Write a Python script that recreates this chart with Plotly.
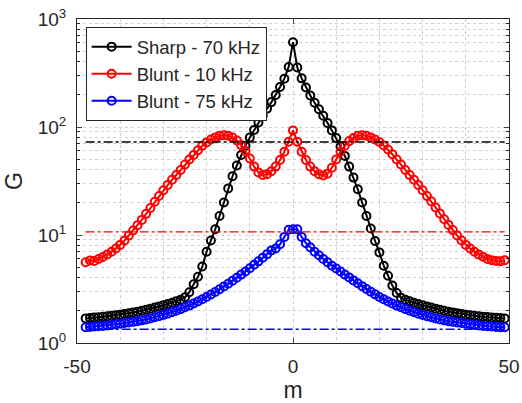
import plotly.graph_objects as go

# mode number
m = list(range(-48, 50))

# G values
sharp_70 = [1.69, 1.70, 1.72, 1.73, 1.75, 1.77, 1.79, 1.81, 1.83, 1.86,
            1.89, 1.92, 1.95, 1.99, 2.03, 2.08, 2.13, 2.18, 2.24, 2.30,
            2.36, 2.44, 2.52, 2.65, 2.95, 3.5, 4.1, 5.1, 7.0, 8.9,
            11.3, 15, 20, 27, 35, 44, 55, 67, 80, 94,
            110, 128, 148, 170, 198, 235, 280, 360,
            610,
            355, 282, 232, 196, 168, 146, 127, 109, 93, 79,
            66, 54, 43, 34, 26.5, 20, 15, 11.5, 8.8, 6.9,
            5.2, 4.2, 3.4, 2.9, 2.62, 2.52, 2.43, 2.36, 2.30, 2.24,
            2.18, 2.13, 2.08, 2.03, 1.99, 1.95, 1.92, 1.89, 1.86, 1.83,
            1.81, 1.79, 1.77, 1.75, 1.74, 1.72, 1.71, 1.70, 1.69]

blunt_10 = [5.6, 5.8, 5.75, 6.0, 6.25, 6.6, 7.0, 7.5, 8.1, 8.9,
            9.9, 11.0, 12.3, 13.8, 15.7, 17.8, 20.3, 23, 26, 29,
            32.5, 36, 40, 45, 50, 55, 61, 67, 72, 76.5,
            80, 83, 84, 83, 80, 75, 68, 60, 51, 43,
            38, 36, 36.5, 39, 43, 49.5, 59, 73,
            93,
            73, 59, 49.5, 43, 39, 36.5, 35.5, 37, 42, 50,
            59, 67, 74, 79, 83, 84, 83, 80, 76.5, 72.5,
            67.5, 62, 56, 50, 45, 40, 36, 32.5, 29, 26,
            23, 20.5, 18, 15.8, 14, 12.4, 11.1, 9.9, 8.9, 8.1,
            7.5, 7.0, 6.6, 6.3, 6.0, 5.85, 5.75, 5.7, 5.85]

blunt_75 = [1.40, 1.41, 1.42, 1.43, 1.44, 1.45, 1.47, 1.49, 1.51, 1.53,
            1.55, 1.57, 1.59, 1.62, 1.65, 1.69, 1.73, 1.77, 1.82, 1.87,
            1.93, 1.99, 2.06, 2.14, 2.22, 2.32, 2.42, 2.54, 2.67, 2.81,
            2.97, 3.14, 3.33, 3.54, 3.77, 4.02, 4.30, 4.6, 4.92, 5.3,
            5.7, 6.15, 6.65, 7.2, 7.5, 8.2, 9.6, 11.2,
            11.3,
            11.3, 9.6, 8.4, 7.7, 7.0, 6.5, 6.0, 5.6, 5.2, 4.9,
            4.6, 4.3, 4.05, 3.8, 3.57, 3.36, 3.16, 2.98, 2.82, 2.67,
            2.54, 2.42, 2.32, 2.22, 2.14, 2.06, 1.99, 1.93, 1.87, 1.82,
            1.77, 1.73, 1.69, 1.65, 1.62, 1.59, 1.57, 1.55, 1.53, 1.51,
            1.49, 1.47, 1.45, 1.44, 1.43, 1.42, 1.41, 1.40, 1.40]

# reference levels (dash-dot lines)
level_sharp_70 = 72.6
level_blunt_10 = 10.7
level_blunt_75 = 1.34

names = ["Sharp - 70 kHz", "Blunt - 10 kHz", "Blunt - 75 kHz"]
colors = ["#000000", "#ff0000", "#0000ff"]

ytick_vals = [1, 10, 100, 1000]
ytick_text = ["10<sup>0</sup>", "10<sup>1</sup>", "10<sup>2</sup>", "10<sup>3</sup>"]
xtick_vals = [-50, 0, 50]
xtick_text = ["-50", "0", "50"]

fig = go.Figure()

for name, ys, c in zip(names, [sharp_70, blunt_10, blunt_75], colors):
    fig.add_trace(go.Scatter(
        x=m, y=ys, name=name, mode="lines+markers",
        line=dict(color=c, width=2),
        marker=dict(symbol="circle-open", size=8, color=c, line=dict(width=2, color=c))))

for lev, c in zip([level_sharp_70, level_blunt_10, level_blunt_75], colors):
    fig.add_trace(go.Scatter(
        x=[m[0], m[-1]], y=[lev, lev], mode="lines", showlegend=False,
        line=dict(color=c, width=1.4, dash="dashdot")))

grid = "#cfcfcf"
fig.update_layout(
    width=522, height=403,
    margin=dict(l=77, r=13, t=19, b=60),
    paper_bgcolor="white", plot_bgcolor="white",
    font=dict(family="Arial, Liberation Sans, sans-serif", size=19, color="#262626"),
    showlegend=True,
    legend=dict(x=0.02, y=0.975, xanchor="left", yanchor="top",
                bgcolor="white", bordercolor="#262626", borderwidth=1,
                font=dict(size=18.5, color="#262626"), tracegroupgap=0,
                itemwidth=40),
    xaxis=dict(range=[-50, 50], tickvals=xtick_vals, ticktext=xtick_text,
               ticks="inside", ticklen=5, automargin=False,
               showline=True, linecolor="#262626", linewidth=1, mirror="ticks",
               showgrid=True, gridcolor=grid, griddash="dot", gridwidth=1,
               minor=dict(dtick=10, tick0=0, showgrid=True, gridcolor=grid,
                          griddash="dot", ticks=""),
               zeroline=False, ticklabelstandoff=6,
               title=dict(text="m", standoff=12)),
    yaxis=dict(type="log", range=[0, 3], tickvals=ytick_vals, ticktext=ytick_text,
               ticks="inside", ticklen=5, automargin=False,
               showline=True, linecolor="#262626", linewidth=1, mirror="ticks",
               showgrid=True, gridcolor=grid, griddash="dot", gridwidth=1,
               minor=dict(dtick="D1", showgrid=True, gridcolor=grid, griddash="dot",
                          ticks="inside", ticklen=3, tickcolor="#262626"),
               zeroline=False, ticklabelstandoff=6,
               title=dict(text="G", standoff=8)),
)

# drop the default 8px body margin so the figure fills the window
fig.write_html("out.html", config={"displayModeBar": False},
               post_script="document.body.style.margin='0';document.body.style.overflow='hidden';")
